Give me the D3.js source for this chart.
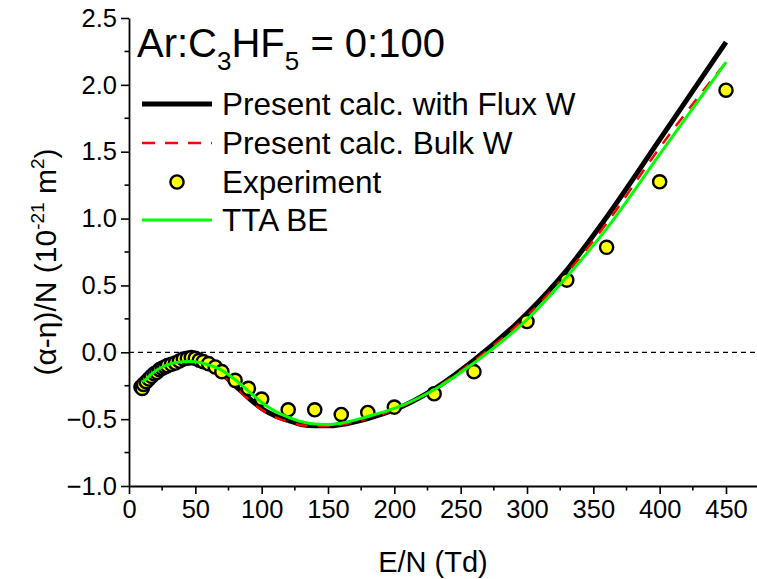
<!DOCTYPE html>
<html><head><meta charset="utf-8">
<script src="https://cdn.jsdelivr.net/npm/d3@7"></script>
<style>
body{margin:0;background:#fff;}
svg{display:block;font-family:"Liberation Sans",Arial,sans-serif;}
</style></head><body>
<svg id="c" width="757" height="579"></svg>
<script>
// ---- data ----
const xTicks = [0,50,100,150,200,250,300,350,400,450];
const yTicks = [-1.0,-0.5,0.0,0.5,1.0,1.5,2.0,2.5];

const fluxE = [12,15,20,25,30,35,40,45,50,55,60,65,70,80,90,100,110,120,130,140,150,160,180,200,230,260,300,330,360,400,450];
const fluxV = [-0.22,-0.19,-0.145,-0.115,-0.095,-0.08,-0.072,-0.07,-0.075,-0.088,-0.105,-0.13,-0.16,-0.25,-0.34,-0.42,-0.475,-0.51,-0.54,-0.55,-0.55,-0.54,-0.495,-0.43,-0.275,-0.06,0.29,0.615,1.01,1.59,2.32];

const bulkE = [12,15,20,25,30,35,40,45,50,55,60,65,70,80,90,100,110,120,130,140,150,160,180,200,230,260,300,330,360,400,450];
const bulkV = [-0.22,-0.19,-0.145,-0.115,-0.095,-0.08,-0.072,-0.07,-0.075,-0.088,-0.105,-0.135,-0.17,-0.26,-0.35,-0.43,-0.485,-0.52,-0.545,-0.55,-0.55,-0.54,-0.495,-0.43,-0.275,-0.065,0.27,0.59,0.965,1.53,2.17];

const expE = [9,10,11,13,15,17,19,21,23,25,27,29,32,35,38,41,44,47,50,53,56,60,65,70,80,90,100,120,140,160,180,200,230,260,300,330,360,400,450];
const expV = [-0.26,-0.27,-0.24,-0.22,-0.2,-0.18,-0.16,-0.15,-0.13,-0.12,-0.11,-0.1,-0.09,-0.08,-0.065,-0.05,-0.045,-0.04,-0.045,-0.06,-0.07,-0.085,-0.11,-0.145,-0.21,-0.27,-0.35,-0.43,-0.43,-0.465,-0.45,-0.41,-0.31,-0.145,0.23,0.54,0.785,1.275,1.96];

const ttaE = [10,12,15,20,25,30,35,40,45,50,55,60,65,70,80,90,100,110,120,130,140,150,160,180,200,230,260,300,330,360,400,450];
const ttaV = [-0.22,-0.21,-0.18,-0.14,-0.11,-0.09,-0.078,-0.07,-0.068,-0.07,-0.08,-0.095,-0.112,-0.135,-0.205,-0.29,-0.375,-0.44,-0.485,-0.52,-0.537,-0.54,-0.53,-0.48,-0.42,-0.28,-0.08,0.245,0.565,0.925,1.48,2.17];

const legendLabels = ["Present calc. with Flux W","Present calc. Bulk W","Experiment","TTA BE"];

// ---- drawing ----
const svg = d3.select("#c");
const x = d3.scaleLinear().domain([0,450]).range([129,726]);
const y = d3.scaleLinear().domain([-1,2.5]).range([486,18]);
const xAxisScale = x.copy().domain([0, x.invert(757)]).range([129,757]);
const FS = 25.5;

// zero line
svg.append("line").attr("x1",x(0)).attr("x2",757).attr("y1",y(0)).attr("y2",y(0))
  .attr("stroke","#000").attr("stroke-width",1.2).attr("stroke-dasharray","5,4");

// axes
const xMinor = d3.range(25,475,50);
const yMinor = d3.range(-0.75,2.5,0.5);
const gx = svg.append("g").attr("transform",`translate(0,${y(-1)})`);
gx.call(d3.axisBottom(xAxisScale).tickValues(xTicks).tickSize(8).tickSizeOuter(0).tickPadding(6).tickFormat(d3.format("d")));
xMinor.forEach(v=>gx.append("line").attr("x1",x(v)).attr("x2",x(v)).attr("y1",0).attr("y2",4.5).attr("stroke","#000").attr("stroke-width",1.6));
const gy = svg.append("g").attr("transform",`translate(${x(0)},0)`);
gy.call(d3.axisLeft(y).tickValues(yTicks).tickSize(8).tickSizeOuter(0).tickPadding(4).tickFormat(d3.format(".1f")));
yMinor.forEach(v=>gy.append("line").attr("x1",0).attr("x2",-4.5).attr("y1",y(v)).attr("y2",y(v)).attr("stroke","#000").attr("stroke-width",1.6));
[gx,gy].forEach(g=>{
  g.select(".domain").attr("stroke","#000").attr("stroke-width",1.8);
  g.selectAll(".tick line").attr("stroke","#000").attr("stroke-width",1.6);
  g.selectAll(".tick text").attr("fill","#000").attr("font-size",FS).attr("font-family","Liberation Sans, Arial, sans-serif");
});

// lines
const line = d3.line().x(d=>x(d[0])).y(d=>y(d[1])).curve(d3.curveMonotoneX);
const zip = (a,b)=>a.map((v,i)=>[v,b[i]]);
svg.append("path").datum(zip(fluxE,fluxV)).attr("d",line).attr("fill","none").attr("stroke","#000").attr("stroke-width",5);
svg.append("path").datum(zip(bulkE,bulkV)).attr("d",line).attr("fill","none").attr("stroke","#ff0000").attr("stroke-width",2.5).attr("stroke-dasharray","12,10");
svg.append("g").selectAll("circle").data(zip(expE,expV)).join("circle")
  .attr("cx",d=>x(d[0])).attr("cy",d=>y(d[1])).attr("r",6.6).attr("fill","#ffff00").attr("stroke","#000").attr("stroke-width",2.4);
svg.append("path").datum(zip(ttaE,ttaV)).attr("d",line).attr("fill","none").attr("stroke","#00ff00").attr("stroke-width",3);

// title
const t = svg.append("text").attr("x",137).attr("y",57).attr("font-size",40).attr("fill","#000");
t.append("tspan").text("Ar:C");
t.append("tspan").attr("font-size",26).attr("dy",13).text("3");
t.append("tspan").attr("dy",-13).text("HF");
t.append("tspan").attr("font-size",26).attr("dy",13).text("5");
t.append("tspan").attr("dy",-13).text(" = 0:100");

// legend
const lg = svg.append("g");
const rowY = [104,143,182,220];
lg.append("line").attr("x1",142).attr("x2",212).attr("y1",rowY[0]).attr("y2",rowY[0]).attr("stroke","#000").attr("stroke-width",5);
lg.append("line").attr("x1",142).attr("x2",212).attr("y1",rowY[1]).attr("y2",rowY[1]).attr("stroke","#ff0000").attr("stroke-width",2.5).attr("stroke-dasharray","13,10");
lg.append("circle").attr("cx",177).attr("cy",rowY[2]).attr("r",6.6).attr("fill","#ffff00").attr("stroke","#000").attr("stroke-width",2.4);
lg.append("line").attr("x1",142).attr("x2",212).attr("y1",rowY[3]).attr("y2",rowY[3]).attr("stroke","#00ff00").attr("stroke-width",3);
legendLabels.forEach((s,i)=>lg.append("text").attr("x",222).attr("y",rowY[i]+11).attr("font-size",31.5).attr("fill","#000").text(s));

// axis titles
svg.append("text").attr("x",433).attr("y",572).attr("text-anchor","middle").attr("font-size",29).attr("fill","#000").text("E/N (Td)");
const yl = svg.append("text").attr("transform","translate(56,262) rotate(-90)").attr("text-anchor","middle").attr("font-size",30).attr("fill","#000");
yl.append("tspan").text("(\u03b1-\u03b7)/N (10");
yl.append("tspan").attr("font-size",19).attr("dy",-12).text("-21");
yl.append("tspan").attr("dy",12).text(" m");
yl.append("tspan").attr("font-size",19).attr("dy",-12).text("2");
yl.append("tspan").attr("dy",12).text(")");
</script>
</body></html>
